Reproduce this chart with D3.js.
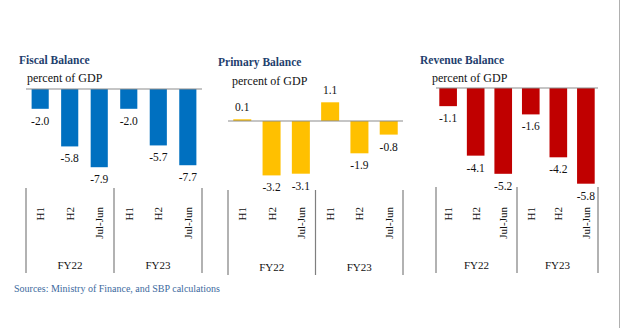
<!DOCTYPE html>
<html lang="en">
<head>
    <meta charset="UTF-8">
    <title>Fiscal, Primary and Revenue Balance</title>
    <script src="https://d3js.org/d3.v7.min.js"></script>
    <style>
        body { margin: 0; background: #fff; }
        svg text { font-family: 'Liberation Serif', 'DejaVu Serif', serif; fill: #111; }
        .title { font-weight: bold; fill: #1f3f6e; font-size: 11.5px; }
        .unit { font-size: 12px; }
        .val { font-size: 11.5px; }
        .cat { font-size: 11px; }
        .grp { font-size: 11px; }
        .src { font-size: 10px; fill: #3d6a9e; }
    </style>
</head>
<body>
<svg id="chart" width="621" height="328"></svg>
<script>
    // Half-year periods grouped by fiscal year
    const periods = ['H1', 'H2', 'Jul-Jun'];
    const fiscalYears = ['FY22', 'FY23'];

    // percent of GDP, FY22 H1..Jul-Jun then FY23 H1..Jul-Jun
    const fiscalBalance = [-2.0, -5.8, -7.9, -2.0, -5.7, -7.7];
    const primaryBalance = [0.1, -3.2, -3.1, 1.1, -1.9, -0.8];
    const revenueBalance = [-1.1, -4.1, -5.2, -1.6, -4.2, -5.8];

    const panelTitles = ['Fiscal Balance', 'Primary Balance', 'Revenue Balance'];
    const unitLabel = 'percent of GDP';
    const sourceNote = 'Sources: Ministry of Finance, and SBP calculations';

    // layout of each small multiple
    const panels = [
        { title: panelTitles[0], values: fiscalBalance, color: '#0070c0',
          x: [26, 202], y: [0, -8], yr: [89, 168.2], pin: 0.42, pout: 0.19,
          titleAt: [19, 64], unitAt: [27, 82], sep: [188, 273] },
        { title: panelTitles[1], values: primaryBalance, color: '#ffc000',
          x: [228, 403], y: [0, -3.2], yr: [121, 175.4], pin: 0.385, pout: 0.18,
          titleAt: [218, 66], unitAt: [232, 85], sep: [190, 275] },
        { title: panelTitles[2], values: revenueBalance, color: '#c00000',
          x: [436, 598], y: [0, -5.8], yr: [88, 183.7], pin: 0.36, pout: 0.12,
          titleAt: [420, 64], unitAt: [432, 82], sep: [187, 273] }
    ];

    const svg = d3.select('#chart');

    // thin frame on the right edge
    svg.append('line')
        .attr('x1', 619.5).attr('x2', 619.5).attr('y1', 0).attr('y2', 328)
        .attr('stroke', '#b0b0b0');

    panels.forEach(p => {
        const keys = fiscalYears.flatMap(fy => periods.map(pr => fy + '|' + pr));
        const data = p.values.map((v, i) => ({ key: keys[i], period: keys[i].split('|')[1], value: v }));

        const x = d3.scaleBand().domain(keys).range(p.x)
            .paddingInner(p.pin).paddingOuter(p.pout);
        const y = d3.scaleLinear().domain(p.y).range(p.yr);
        const g = svg.append('g');

        g.append('text').attr('class', 'title')
            .attr('x', p.titleAt[0]).attr('y', p.titleAt[1]).text(p.title);
        g.append('text').attr('class', 'unit')
            .attr('x', p.unitAt[0]).attr('y', p.unitAt[1]).text(unitLabel);

        g.selectAll('rect').data(data).join('rect')
            .attr('x', d => x(d.key))
            .attr('width', x.bandwidth())
            .attr('y', d => Math.min(y(0), y(d.value)))
            .attr('height', d => Math.abs(y(d.value) - y(0)))
            .attr('fill', p.color);

        // zero line
        g.append('line')
            .attr('x1', p.x[0]).attr('x2', p.x[1])
            .attr('y1', y(0)).attr('y2', y(0))
            .attr('stroke', '#8c8c8c').attr('stroke-width', 1.2);

        // value labels, plain hyphen for negatives
        g.selectAll('.val').data(data).join('text')
            .attr('class', 'val')
            .attr('text-anchor', 'middle')
            .attr('x', d => x(d.key) + x.bandwidth() / 2)
            .attr('y', d => d.value >= 0 ? y(d.value) - 8 : y(d.value) + 16)
            .text(d => d.value.toFixed(1));

        // rotated period labels
        g.selectAll('.cat').data(data).join('text')
            .attr('class', 'cat')
            .attr('text-anchor', 'end')
            .attr('transform', d => `translate(${x(d.key) + x.bandwidth() / 2 + 4},207) rotate(-90)`)
            .text(d => d.period);

        // fiscal year separators and labels
        const mid = (p.x[0] + p.x[1]) / 2;
        [p.x[0], mid, p.x[1]].forEach(sx => {
            g.append('line')
                .attr('x1', sx).attr('x2', sx)
                .attr('y1', p.sep[0]).attr('y2', p.sep[1])
                .attr('stroke', '#7f7f7f').attr('stroke-width', 1.2);
        });
        fiscalYears.forEach((fy, i) => {
            g.append('text').attr('class', 'grp')
                .attr('text-anchor', 'middle')
                .attr('x', i === 0 ? (p.x[0] + mid) / 2 : (mid + p.x[1]) / 2)
                .attr('y', p.sep[1] - 4)
                .text(fy);
        });
    });

    svg.append('text').attr('class', 'src')
        .attr('x', 14).attr('y', 292).text(sourceNote);
</script>
</body>
</html>
